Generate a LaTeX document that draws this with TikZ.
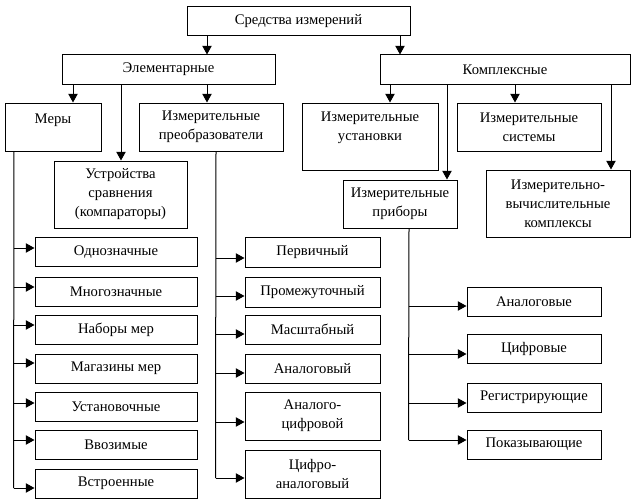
\documentclass[tikz,border=0pt]{standalone}
\usepackage{fontspec}
\setmainfont{Liberation Serif}
\usetikzlibrary{arrows.meta}
\usetikzlibrary{calc}

\tikzset{
  box/.style={draw, line width=0.75pt, rectangle, align=center, inner sep=0pt,
              font=\fontsize{11}{14.25}\selectfont},
  sz/.style 2 args={minimum width=#1*0.75pt, minimum height=#2*0.75pt},
  arr/.style={-{Triangle[length=6.5pt, width=7pt]}, line width=0.75pt},
  bus/.style={line width=0.75pt},
}

\begin{document}
\begin{tikzpicture}[x=0.75pt, y=-0.75pt, line join=miter]

  \useasboundingbox (0,0) rectangle (638,503);

  % ===== Top levels =====
  \node[box, sz={223}{29}] (src)   at (298.5,21.5) {Средства измерений};
  \node[box, sz={213}{29}] (elem)  at (168.5,69.5) {Элементарные};
  \node[box, sz={250}{29}] (kompl) at (505,69.5)   {Комплексные};

  % ===== Elementary =====
  \node[box, sz={96}{48}, text depth=12.5pt] (mery) at (53,127) {Меры};
  \node[box, sz={133}{67}] (compar) at (120.5,194.5) {Устройства\\сравнения\\(компараторы)};
  \node[box, sz={144}{48}] (preobr) at (211,127) {Измерительные\\преобразователи};

  % ===== Complex =====
  \node[box, sz={136}{67}, text depth=15.5pt] (ustan) at (370,136.5) {Измерительные\\установки};
  \node[box, sz={114}{48}] (pribor) at (400,204) {Измерительные\\приборы};
  \node[box, sz={144}{48}] (sistem) at (529,127) {Измерительные\\системы};
  \node[box, sz={144}{67}] (ivk)    at (558,203.5) {Измерительно-\\вычислительные\\комплексы};

  % arrows going down from one level to the next
  \foreach \from/\to/\x in {src/elem/207, src/kompl/400,
                            elem/mery/73, elem/compar/121, elem/preobr/207,
                            kompl/ustan/390, kompl/pribor/447, kompl/sistem/515, kompl/ivk/611}
    \draw[arr] (\from.south -| \x,0) -- (\to.north -| \x,0);

  % ===== Measures (left column) =====
  \foreach \name/\y/\dy/\txt in {me1/252/-4/Однозначные, me2/292/-5/Многозначные,
                                 me3/329.5/-4.5/Наборы мер, me4/368.5/-5.5/Магазины мер,
                                 me5/407/-4/Установочные, me6/444.5/-4.5/Ввозимые,
                                 me7/483.5/4.5/Встроенные}
  {
    \node[box, sz={162}{29}] (\name) at (116,\y) {\txt};
    \draw[arr] ($(\name.west)+(-21,\dy)$) -- ($(\name.west)+(0,\dy)$);
  }
  \draw[bus] (mery.south -| 14,0) -- ($(me7.west)+(-21,4.5)$);

  % ===== Transducers (middle column) =====
  \foreach \name/\y/\h/\dy/\txt in {pr1/252/30/6/Первичный, pr2/292/30/4/Промежуточный,
                                    pr3/329.5/29/4.5/Масштабный, pr4/368.5/29/4.5/Аналоговый,
                                    pr5/416/48/6/{Аналого-\\цифровой},
                                    pr6/474/48/4/{Цифро-\\аналоговый}}
  {
    \node[box, sz={135}{\h}] (\name) at (312.5,\y) {\txt};
    \draw[arr] ($(\name.west)+(-29,\dy)$) -- ($(\name.west)+(0,\dy)$);
  }
  \draw[bus] (preobr.south -| 216,0) -- ($(pr6.west)+(-29,4)$);

  % ===== Instruments (right column) =====
  \foreach \name/\y/\dy/\txt in {pb1/301.5/4.5/Аналоговые, pb2/348.5/5.5/Цифровые,
                                 pb3/397.5/5.5/Регистрирующие, pb4/444.5/-4.5/Показывающие}
  {
    \node[box, sz={134}{29}] (\name) at (534,\y) {\txt};
    \draw[arr] ($(\name.west)+(-58,\dy)$) -- ($(\name.west)+(0,\dy)$);
  }
  \draw[bus] (pribor.south -| 409,0) -- ($(pb4.west)+(-58,-4.5)$);

\end{tikzpicture}
\end{document}
